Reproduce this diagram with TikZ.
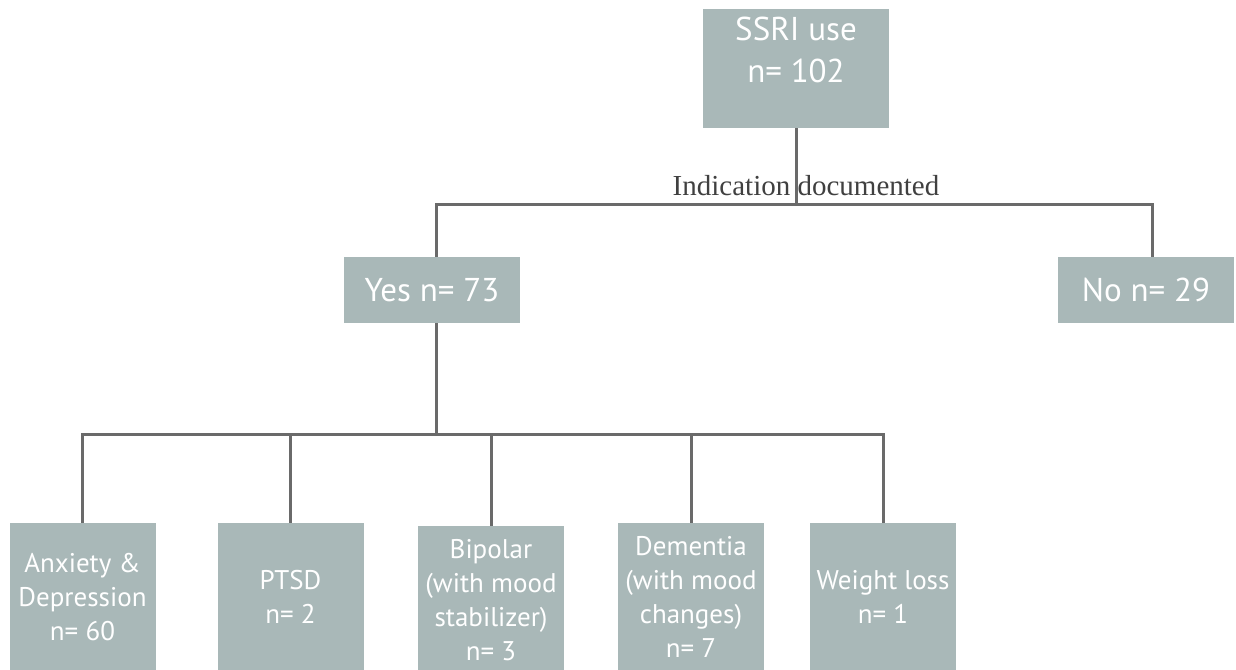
\documentclass[tikz,border=0pt]{standalone}
\usepackage{fontspec}
\setsansfont{PT Sans}
\newfontfamily\labelfont{Liberation Serif}
\definecolor{boxgray}{HTML}{A9B8B8}
\definecolor{linegray}{HTML}{6A6A6A}
\definecolor{labelgray}{HTML}{404040}
\begin{document}
\begin{tikzpicture}[x=1pt,y=-1pt,
    box/.style={fill=boxgray,text=white,align=center,inner sep=0pt,font=\sffamily},
    topbox/.style={box,font=\sffamily\fontsize{33}{42}\selectfont,minimum height=66pt},
    leafbox/.style={box,font=\sffamily\fontsize{27}{34}\selectfont,minimum width=146pt,minimum height=148pt},
    link/.style={draw=linegray,line width=3pt}]
  \useasboundingbox (0,0) rectangle (1236,669);
  % top of the tree
  \node[topbox,minimum width=186pt,minimum height=119pt] (ssri) at (796,68.5) {SSRI use\\n= 102\\[-18pt]\strut};
  \node[topbox,minimum width=176pt] (yes) at (432,290) {Yes n= 73};
  \node[topbox,minimum width=176pt] (no) at (1146,290) {No n= 29};
  \coordinate (split1) at (796,204);
  \coordinate (yesdrop) at (436,204);
  \coordinate (nodrop) at (1152,204);
  \draw[link] (ssri.south) -- (split1);
  \draw[link] (yesdrop |- yes.north) -- (yesdrop) -- (nodrop) -- (nodrop |- no.north);
  \node[text=labelgray,font=\labelfont\fontsize{29}{32}\selectfont] (indic) at (806,186) {Indication documented};
  % indications
  \node[leafbox] (anx) at (82.5,597) {Anxiety \&\\Depression\\n= 60};
  \node[leafbox] (ptsd) at (290.5,597) {PTSD\\n= 2};
  \node[leafbox] (bip) at (491,600) {Bipolar\\(with mood\\stabilizer)\\n= 3};
  \node[leafbox] (dem) at (691,597) {Dementia\\(with mood\\changes)\\n= 7};
  \node[leafbox] (wt) at (883,597) {Weight loss\\n= 1};
  \coordinate (split2) at (436,434);
  \draw[link] (split2 |- yes.south) -- (split2);
  \draw[link] (anx.north) |- (split2) -| (wt.north);
  \foreach \n in {ptsd,bip,dem}
    \draw[link] (\n.north) -- (\n.north |- split2);
\end{tikzpicture}
\end{document}
